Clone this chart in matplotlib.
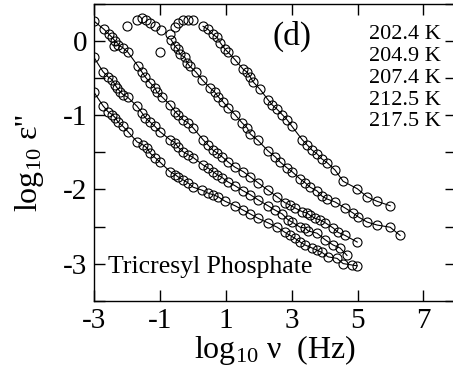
import matplotlib.pyplot as plt

plt.rcParams['font.family'] = ['Liberation Serif', 'DejaVu Serif']
plt.rcParams['mathtext.fontset'] = 'custom'
plt.rcParams['mathtext.rm'] = 'Liberation Serif'
plt.rcParams['mathtext.it'] = 'Liberation Serif:italic'
plt.rcParams['axes.unicode_minus'] = False

temps = ["202.4 K", "204.9 K", "207.4 K", "212.5 K", "217.5 K"]

# log10 nu, log10 eps'' for each temperature
x_2024 = [-3.00, -2.73, -2.58, -2.45, -2.36, -2.27, -2.12, -1.97, -1.69, -1.51,
          -1.39, -1.30, -1.15, -1.00, -0.69, -0.54, -0.45, -0.30, -0.15, 0.01,
          0.28, 0.46, 0.61, 0.77, 0.98, 1.28, 1.53, 1.74, 1.98, 2.28,
          2.56, 2.80, 2.95, 3.10, 3.26, 3.41, 3.62, 3.77, 3.92, 4.11,
          4.38, 4.56, 4.84, 4.99]
y_2024 = [-0.69, -0.87, -0.95, -0.99, -1.03, -1.09, -1.15, -1.22, -1.36, -1.40,
          -1.44, -1.51, -1.57, -1.63, -1.76, -1.80, -1.83, -1.87, -1.91, -1.97,
          -2.01, -2.05, -2.07, -2.10, -2.16, -2.22, -2.28, -2.33, -2.39, -2.45,
          -2.51, -2.58, -2.62, -2.66, -2.71, -2.75, -2.79, -2.82, -2.85, -2.91,
          -2.93, -3.00, -3.02, -3.03]

x_2049 = [-3.00, -2.73, -2.58, -2.45, -2.36, -2.30, -2.21, -2.12, -1.97, -1.69,
          -1.54, -1.45, -1.30, -1.15, -1.00, -0.69, -0.54, -0.45, -0.30, -0.15,
          0.01, 0.31, 0.46, 0.61, 0.74, 0.89, 1.07, 1.28, 1.53, 1.74,
          1.98, 2.28, 2.50, 2.71, 2.89, 3.01, 3.26, 3.41, 3.50, 3.77,
          4.02, 4.26, 4.47, 4.68]
y_2049 = [-0.22, -0.41, -0.48, -0.52, -0.59, -0.63, -0.68, -0.72, -0.76, -0.88,
          -0.97, -1.03, -1.09, -1.15, -1.22, -1.33, -1.37, -1.43, -1.49, -1.53,
          -1.57, -1.67, -1.71, -1.76, -1.80, -1.84, -1.90, -1.95, -2.02, -2.07,
          -2.14, -2.22, -2.28, -2.33, -2.41, -2.44, -2.51, -2.52, -2.56, -2.59,
          -2.68, -2.75, -2.79, -2.89]

x_2074 = [-3.00, -2.70, -2.54, -2.45, -2.36, -2.39, -2.27, -2.12, -1.97, -1.66,
          -1.54, -1.45, -1.30, -1.15, -1.09, -0.94, -0.69, -0.54, -0.45, -0.30,
          -0.15, 0.01, 0.31, 0.46, 0.61, 0.74, 0.89, 1.07, 1.28, 1.53,
          1.74, 1.98, 2.28, 2.56, 2.80, 2.95, 3.10, 3.32, 3.47, 3.56,
          3.71, 3.86, 4.02, 4.26, 4.41, 4.62, 4.99]
y_2074 = [0.27, 0.16, 0.09, 0.05, -0.00, -0.06, -0.05, -0.09, -0.15, -0.34,
          -0.42, -0.48, -0.56, -0.63, -0.69, -0.75, -0.86, -0.95, -0.99, -1.06,
          -1.10, -1.17, -1.33, -1.40, -1.47, -1.51, -1.56, -1.63, -1.70, -1.76,
          -1.83, -1.91, -2.01, -2.10, -2.18, -2.21, -2.25, -2.30, -2.32, -2.35,
          -2.39, -2.41, -2.45, -2.52, -2.58, -2.62, -2.71]

x_2125 = [-2.00, -1.69, -1.54, -1.42, -1.30, -1.15, -0.97, -1.00, -0.66, -0.54,
          -0.45, -0.39, -0.24, -0.18, -0.09, 0.10, 0.28, 0.52, 0.67, 0.77,
          0.92, 1.07, 1.28, 1.49, 1.65, 1.74, 1.98, 2.28, 2.50, 2.65,
          2.86, 3.01, 3.26, 3.41, 3.56, 3.77, 3.92, 4.08, 4.32, 4.62,
          4.87, 5.02, 5.29, 5.59, 5.99, 6.29]
y_2125 = [0.20, 0.29, 0.31, 0.28, 0.25, 0.20, 0.15, -0.15, 0.02, -0.07,
          -0.11, -0.18, -0.22, -0.29, -0.34, -0.42, -0.52, -0.63, -0.69, -0.75,
          -0.82, -0.90, -0.99, -1.10, -1.17, -1.25, -1.34, -1.48, -1.56, -1.63,
          -1.71, -1.76, -1.86, -1.91, -1.97, -2.02, -2.09, -2.13, -2.17, -2.25,
          -2.32, -2.37, -2.44, -2.48, -2.51, -2.62]

x_2175 = [-0.69, -0.54, -0.45, -0.30, -0.15, 0.01, 0.31, 0.46, 0.61, 0.74,
          0.83, 0.98, 1.07, 1.28, 1.53, 1.65, 1.74, 1.83, 2.04, 2.28,
          2.41, 2.56, 2.71, 2.86, 3.01, 3.32, 3.47, 3.62, 3.77, 3.92,
          4.08, 4.32, 4.56, 4.99, 5.29, 5.59, 5.99]
y_2175 = [0.10, 0.19, 0.25, 0.28, 0.29, 0.29, 0.20, 0.16, 0.09, 0.05,
          -0.02, -0.11, -0.15, -0.25, -0.38, -0.42, -0.48, -0.55, -0.65, -0.79,
          -0.86, -0.92, -0.99, -1.06, -1.15, -1.33, -1.40, -1.47, -1.52, -1.59,
          -1.64, -1.74, -1.89, -1.99, -2.10, -2.16, -2.22]

series = [(x_2024, y_2024, 0), (x_2049, y_2049, 0), (x_2074, y_2074, 0),
          (x_2125, y_2125, 8), (x_2175, y_2175, 6)]

fig = plt.figure(figsize=(4.53, 3.68), dpi=100)
ax = fig.add_axes([0.2075, 0.183, 0.80, 0.806])

for xs, ys, start in series:
    # fitted curve only over the high-frequency side
    ax.plot(xs[start:], ys[start:], '-', color='black', lw=0.8)
    ax.plot(xs, ys, 'o', mfc='none', mec='black', ms=6.5, mew=0.8)

ax.set_xlim(-3, 8)
ax.set_ylim(-3.5, 0.5)
ax.set_xticks([-3, -1, 1, 3, 5, 7])
ax.set_yticks([0, -1, -2, -3])
ax.set_yticks([0.5, -0.5, -1.5, -2.5, -3.5], minor=True)
ax.tick_params(which='both', direction='in', top=True, right=True,
               length=8, width=1.0, labelsize=21)
ax.tick_params(axis='x', pad=5)
ax.tick_params(axis='y', pad=5)
for s in ax.spines.values():
    s.set_linewidth(1.0)

ax.set_xlabel("log$_{10}$ ν  (Hz)", fontsize=23)
ax.xaxis.set_label_coords(0.5, -0.11)
ax.set_ylabel("log$_{10}$ ε''", fontsize=23)
ax.yaxis.set_label_coords(-0.133, 0.463)

ax.text(3.0, 0.06, "(d)", fontsize=24, ha='center', va='center')
for i, t in enumerate(temps):
    ax.text(7.54, 0.09 - i * 0.295, t, fontsize=16, ha='right', va='center')
ax.text(-2.57, -3.13, "Tricresyl Phosphate", fontsize=18.5, ha='left',
        va='baseline')

fig.savefig('out.png', dpi=100)
